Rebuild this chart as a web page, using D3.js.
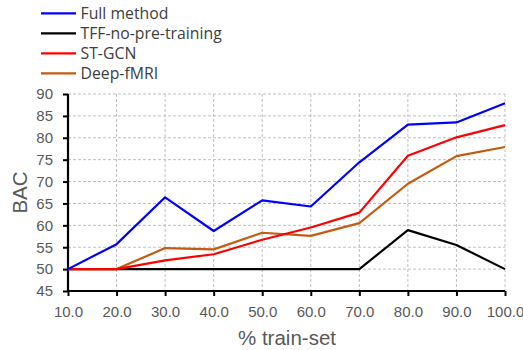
<!DOCTYPE html>
<html><head><meta charset="utf-8">
<script src="https://cdn.jsdelivr.net/npm/d3@7"></script>
<style>body{margin:0;background:#fff}svg{display:block}</style>
</head><body><svg id="c" width="523" height="350"></svg>
<script>
const trainSet = [10,20,30,40,50,60,70,80,90,100];
const fullMethod = [50,55.7,66.4,58.7,65.7,64.3,74.4,83.0,83.5,87.9];
const tffNoPre = [50,50,50,50,50,50,50,58.9,55.5,50];
const stGcn = [50,50,52.0,53.4,56.7,59.5,62.9,75.9,80.1,82.9];
const deepFmri = [50,50,54.8,54.5,58.3,57.6,60.5,69.5,75.8,77.9];
const seriesNames = ["Full method","TFF-no-pre-training","ST-GCN","Deep-fMRI"];
const seriesColors = ["#0000ff","#000000","#ff0000","#c55a11"];
const yTicks = [45,50,55,60,65,70,75,80,85,90];

const svg = d3.select("#c");
const x = d3.scaleLinear().domain([10,100]).range([68,505]);
const y = d3.scaleLinear().domain([45,90]).range([291,94]);

// grid
svg.append("g").selectAll("line.h").data(yTicks.filter(d=>d>45)).join("line")
  .attr("x1",68).attr("x2",505).attr("y1",d=>y(d)).attr("y2",d=>y(d))
  .attr("stroke","#bfbfbf").attr("stroke-width",1).attr("stroke-dasharray","3,2");
svg.append("g").selectAll("line.v").data(trainSet.filter(d=>d>10)).join("line")
  .attr("x1",d=>x(d)).attr("x2",d=>x(d)).attr("y1",94).attr("y2",291)
  .attr("stroke","#bfbfbf").attr("stroke-width",1).attr("stroke-dasharray","3,2");

// axes
const yAxis = d3.axisLeft(y).tickValues(yTicks).tickSize(5).tickPadding(10).tickFormat(d3.format("d"));
const gy = svg.append("g").attr("transform","translate(68,0)").call(yAxis);
const xAxis = d3.axisBottom(x).tickValues(trainSet).tickSize(5).tickPadding(10).tickFormat(d3.format(".1f"));
const gx = svg.append("g").attr("transform","translate(0,291)").call(xAxis);
[gx,gy].forEach(g=>{
  g.select(".domain").attr("stroke","#000").attr("stroke-width",2.2);
  g.selectAll(".tick line").attr("stroke","#000").attr("stroke-width",2);
  g.selectAll("text").attr("fill","#595959").style("font-family","Liberation Sans, Arial, sans-serif").style("font-size","15px");
});
gx.select(".domain").attr("d","M68,0H505");
gy.select(".domain").attr("d","M0,94V291");

// lines
const allSeries = [fullMethod,tffNoPre,stGcn,deepFmri];
const line = d3.line().x((d,i)=>x(trainSet[i])).y(d=>y(d));
const order = [1,3,2,0];
order.forEach(k=>{
  svg.append("path").datum(allSeries[k]).attr("d",line)
    .attr("fill","none").attr("stroke",seriesColors[k]).attr("stroke-width",2.2)
    .attr("stroke-linejoin","round");
});

// axis titles
svg.append("text").attr("x",287).attr("y",345).attr("text-anchor","middle")
  .attr("fill","#595959").style("font-family","Liberation Sans, Arial, sans-serif").style("font-size","20.5px").text("% train-set");
svg.append("text").attr("transform","translate(26.5,192.5) rotate(-90)").attr("text-anchor","middle")
  .attr("fill","#595959").style("font-family","Liberation Sans, Arial, sans-serif").style("font-size","20.5px").text("BAC");

// legend
const lg = svg.append("g");
seriesNames.forEach((n,i)=>{
  const yy = 13.3 + i*20;
  lg.append("line").attr("x1",41).attr("x2",76).attr("y1",yy).attr("y2",yy)
    .attr("stroke",seriesColors[i]).attr("stroke-width",2.2);
  lg.append("text").attr("x",80.5).attr("y",yy+5.3).attr("fill","#404040")
    .style("font-family","Open Sans, sans-serif").style("font-size","15.8px").text(n);
});
</script></body></html>
